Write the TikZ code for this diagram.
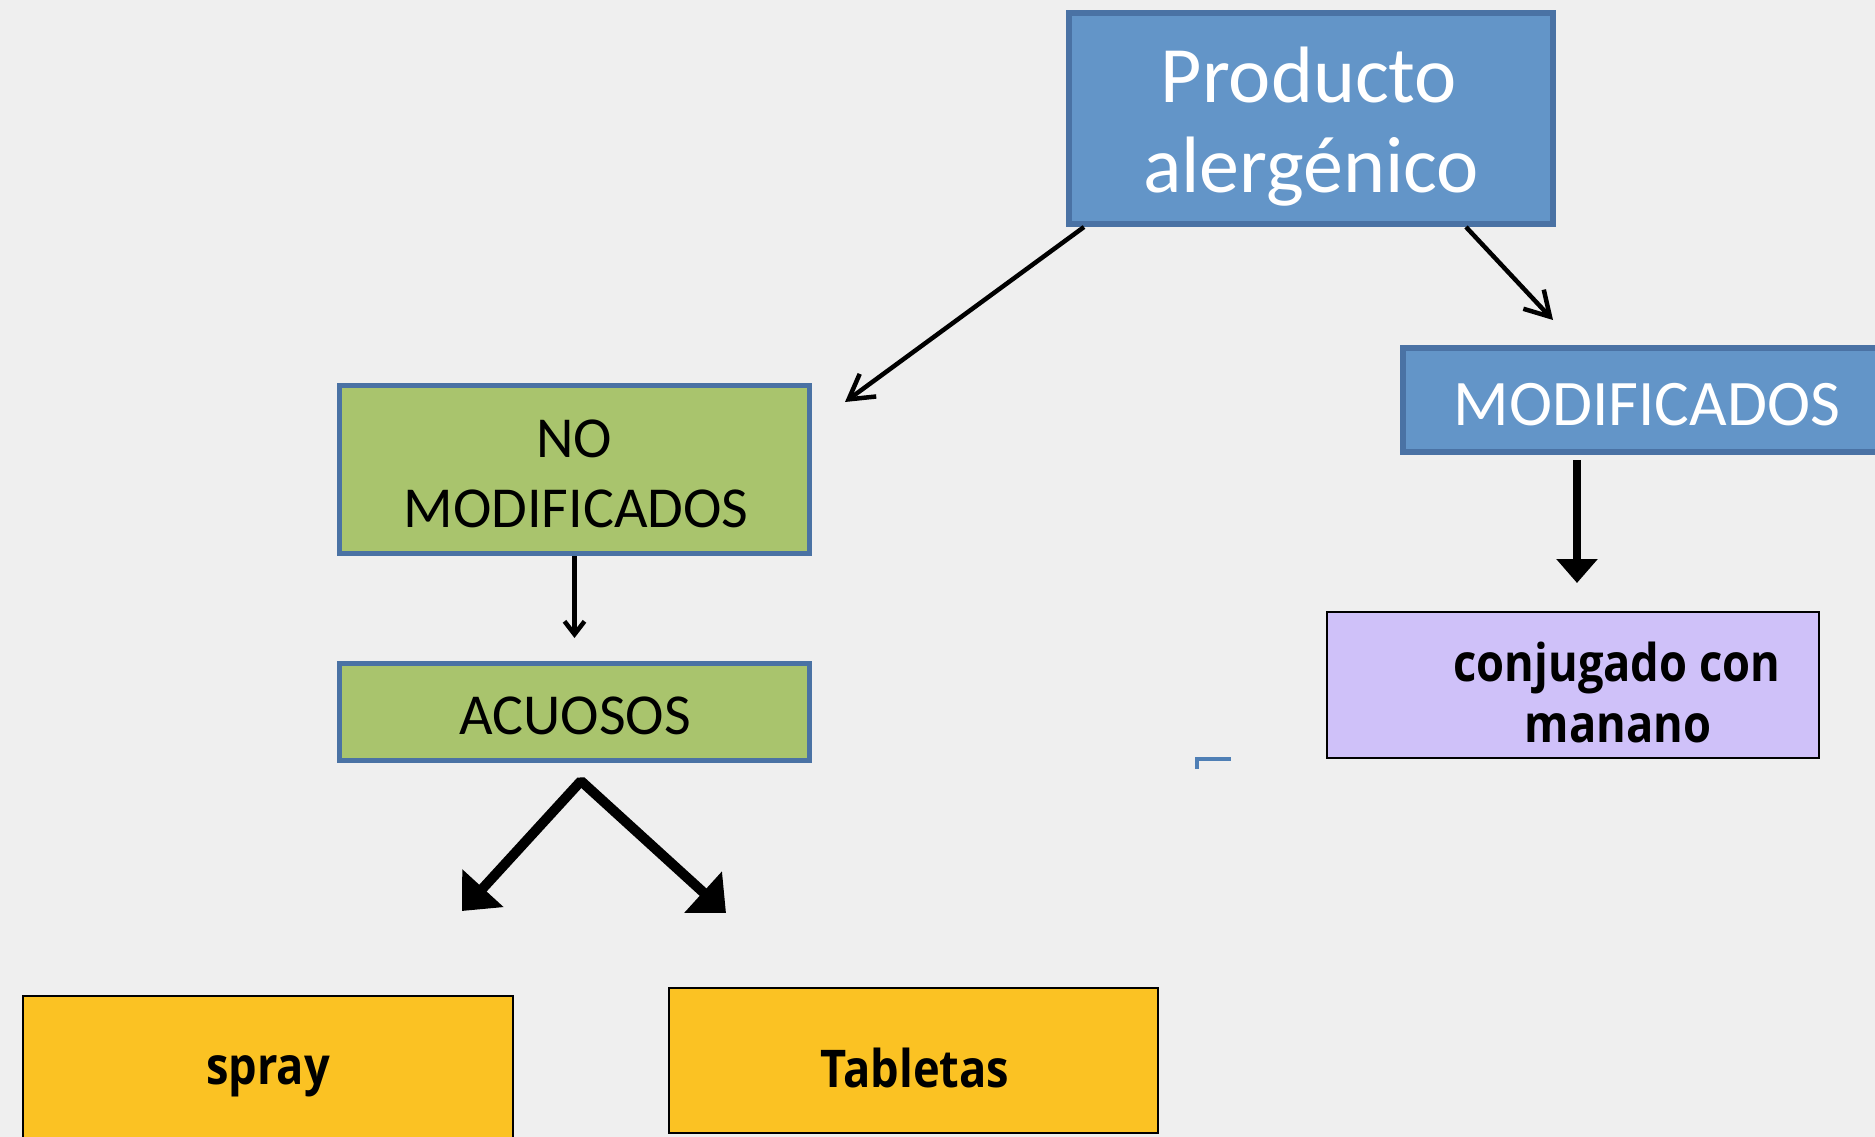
\documentclass[tikz,border=0pt]{standalone}
\usepackage{fontspec}
\setmainfont{Carlito}
\newfontfamily\osb{Open Sans}[FakeStretch=0.87]
\usetikzlibrary{arrows.meta}
\definecolor{bgc}{HTML}{EFEFEF}
\definecolor{bluefill}{HTML}{6395C8}
\definecolor{blueedge}{HTML}{4A72A4}
\definecolor{greenfill}{HTML}{A9C46D}
\definecolor{yellowfill}{HTML}{FBC223}
\definecolor{lavfill}{HTML}{CFC1F9}
\definecolor{markblue}{HTML}{4F7FB5}
\tikzset{
  bluebox/.style={draw=blueedge, fill=bluefill, line width=6pt, inner sep=0pt, rectangle},
  greenbox/.style={draw=blueedge, fill=greenfill, line width=5pt, inner sep=0pt, rectangle},
  yellowbox/.style={draw=black, fill=yellowfill, line width=2pt, inner sep=0pt, rectangle},
  lavbox/.style={draw=black, fill=lavfill, line width=2pt, inner sep=0pt, rectangle},
  bigwhite/.style={anchor=base, inner sep=0pt, text=white, font=\fontsize{80}{96}\selectfont},
  modwhite/.style={anchor=base, inner sep=0pt, text=white, font=\fontsize{65}{78}\selectfont},
  greentext/.style={anchor=base, inner sep=0pt, text=black, font=\fontsize{58}{70}\selectfont},
  boldtext/.style={anchor=base, inner sep=0pt, text=black, font=\osb\bfseries\fontsize{52}{62}\selectfont},
  thinarrow/.style={line width=4.5pt, -{Straight Barb[length=24pt,width=28pt]}},
  smallarrow/.style={line width=4.5pt, -{Straight Barb[length=13pt,width=20pt]}},
  medarrow/.style={line width=8pt, -{Triangle[length=24pt,width=40pt]}},
  thickarrow/.style={line width=10pt, line join=bevel, {Triangle[length=31pt,width=54pt]}-{Triangle[length=31pt,width=54pt]}},
}
\begin{document}
\begin{tikzpicture}[x=1pt,y=-1pt]
\fill[bgc] (0,0) rectangle (1875,1137);
\useasboundingbox (0,0) rectangle (1875,1137);

% boxes
\node[bluebox, minimum width=484pt, minimum height=211pt] (prod) at (1311,118.5) {};
\node[bluebox, minimum width=488pt, minimum height=104pt] (mod) at (1647,400) {};
\node[greenbox, minimum width=470pt, minimum height=168pt] (nomod) at (574.5,469.5) {};
\node[greenbox, minimum width=470pt, minimum height=97pt] (acu) at (574.5,712) {};
\node[lavbox, minimum width=492pt, minimum height=146pt] (conj) at (1573,685) {};
\node[yellowbox, minimum width=490pt, minimum height=145pt] (spray) at (268,1068.5) {};
\node[yellowbox, minimum width=489pt, minimum height=145pt] (tabl) at (913.5,1060.5) {};

% texts
\node[bigwhite] (prodta) at (1309,103) {Producto};
\node[bigwhite] (prodtb) at (1311,193) {alergénico};
\node[modwhite] (modt) at (1647,425) {MODIFICADOS};
\node[greentext] (nomodta) at (574,457.5) {NO};
\node[greentext] (nomodtb) at (576,527) {MODIFICADOS};
\node[greentext] (acut) at (575,734) {ACUOSOS};
\node[boldtext] (conjta) at (1617,681) {conjugado con};
\node[boldtext] (conjtb) at (1618,742) {manano};
\node[boldtext] (sprayt) at (268,1084) {spray};
\node[boldtext] (tablt) at (915,1087) {Tabletas};

% arrow end points
\coordinate (t1) at (845,402);
\coordinate (t2) at (1553,320);
\coordinate (t3) at (574.5,638);
\coordinate (s4) at (1577,460);
\coordinate (t4) at (1577,583);
\coordinate (apex) at (581,781);
\coordinate (t5) at (462,911);
\coordinate (t6) at (726,913);

\draw[thinarrow] ([xshift=18pt]prod.south west) -- (t1);
\draw[thinarrow] ([xshift=-90pt]prod.south east) -- (t2);
\draw[smallarrow] (nomod.south) -- (t3);
\draw[medarrow] (s4) -- (t4);
\draw[thickarrow] (t5) -- (apex) -- (t6);

% stray corner mark
\draw[markblue, line width=4pt] (1197,769) -- (1197,759) -- (1231,759);
\end{tikzpicture}
\end{document}
